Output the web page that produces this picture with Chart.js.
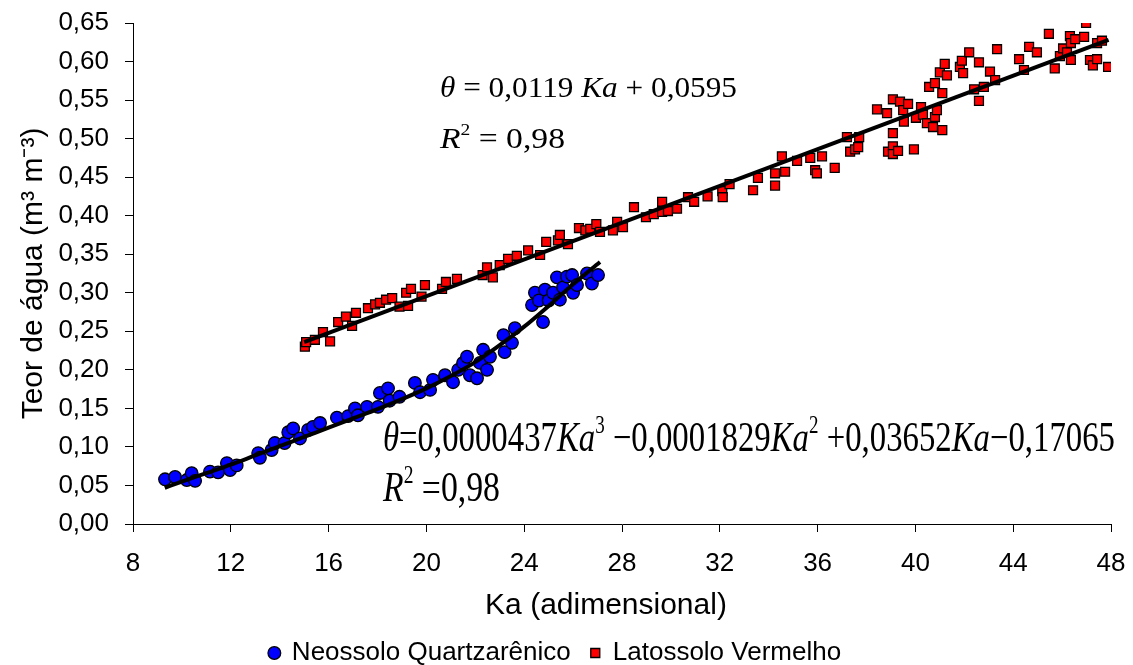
<!DOCTYPE html>
<html>
<head>
<meta charset="utf-8">
<script src="https://cdn.jsdelivr.net/npm/chart.js@4"></script>
<style>
  html, body { margin: 0; padding: 0; background: #fff; overflow: hidden; }
  #wrap { width: 1133px; height: 665px; position: relative; }
</style>
</head>
<body>
<div id="wrap"><canvas id="c"></canvas></div>
<script>
// ---- Data ----
const neoKa = [9.31, 9.72, 10.20, 10.40, 10.54, 11.15, 11.48, 11.84, 11.97, 12.24,
  13.12, 13.19, 13.67, 13.80, 14.20, 14.35, 14.55, 14.83, 15.16, 15.36,
  15.65, 16.34, 16.80, 17.08, 17.20, 17.57, 18.02, 18.10, 18.43, 18.50,
  18.90, 19.53, 19.74, 20.15, 20.27, 20.76, 21.09, 21.30, 21.50, 21.66,
  21.78, 22.07, 22.19, 22.32, 22.48, 22.60, 23.15, 23.20, 23.50, 23.62,
  24.32, 24.44, 24.60, 24.77, 24.85, 25.00, 25.18, 25.34, 25.46, 25.59,
  25.75, 25.96, 26.00, 26.16, 26.57, 26.77, 27.02];
const neoTheta = [0.058, 0.061, 0.057, 0.066, 0.056, 0.068, 0.067, 0.079, 0.070, 0.076,
  0.092, 0.086, 0.096, 0.105, 0.105, 0.119, 0.124, 0.111, 0.122, 0.126,
  0.131, 0.138, 0.140, 0.150, 0.141, 0.152, 0.152, 0.170, 0.176, 0.160,
  0.165, 0.183, 0.171, 0.174, 0.187, 0.193, 0.184, 0.200, 0.209, 0.217,
  0.193, 0.189, 0.209, 0.226, 0.200, 0.217, 0.245, 0.223, 0.235, 0.254,
  0.284, 0.300, 0.290, 0.262, 0.304, 0.290, 0.300, 0.320, 0.291, 0.307,
  0.321, 0.323, 0.300, 0.310, 0.325, 0.312, 0.323];

const latKa = [15.03, 15.08, 15.44, 15.77, 16.06, 16.39, 16.71, 16.96, 17.12, 17.61,
  17.90, 18.10, 18.35, 18.60, 18.90, 19.25, 19.17, 19.37, 19.80, 19.94,
  20.64, 20.80, 21.25, 22.30, 22.48, 22.72, 23.00, 23.34, 23.70, 24.16,
  24.65, 24.90, 25.38, 25.46, 25.79, 26.24, 26.50, 26.70, 26.95, 27.10,
  27.63, 27.80, 28.04, 28.49, 28.98, 29.30, 29.64, 29.64, 29.88, 30.25,
  30.70, 30.95, 31.50, 32.10, 32.12, 32.40, 33.36, 33.56, 34.26, 34.26,
  34.54, 34.67, 35.16, 35.70, 35.90, 35.97, 36.18, 36.70, 37.20, 37.33,
  37.53, 37.70, 37.66, 38.43, 38.84, 38.88, 39.08, 39.08, 39.08, 39.08,
  39.29, 39.37, 39.50, 39.53, 39.70, 39.94, 40.02, 40.23, 40.31, 40.47,
  40.56, 40.72, 40.80, 40.80, 40.88, 41.00, 41.10, 41.10, 41.20, 41.29,
  41.82, 41.90, 41.95, 42.20, 42.40, 42.60, 42.60, 42.80, 43.05, 43.26,
  43.34, 44.24, 44.44, 44.65, 44.97, 45.46, 45.70, 45.91, 46.04, 46.20,
  46.32, 46.36, 46.36, 46.53, 46.90, 46.98, 47.14, 47.26, 47.43, 47.43,
  47.63, 47.88];
const latTheta = [0.230, 0.236, 0.239, 0.249, 0.237, 0.262, 0.269, 0.257, 0.274, 0.280,
  0.285, 0.287, 0.291, 0.293, 0.282, 0.283, 0.300, 0.305, 0.295, 0.310,
  0.305, 0.314, 0.318, 0.323, 0.333, 0.320, 0.336, 0.344, 0.348, 0.355,
  0.349, 0.366, 0.368, 0.375, 0.363, 0.384, 0.381, 0.383, 0.389, 0.379,
  0.381, 0.392, 0.385, 0.411, 0.398, 0.402, 0.418, 0.405, 0.406, 0.409,
  0.424, 0.418, 0.425, 0.432, 0.424, 0.441, 0.433, 0.449, 0.455, 0.439,
  0.477, 0.457, 0.471, 0.475, 0.459, 0.455, 0.477, 0.462, 0.502, 0.483,
  0.486, 0.502, 0.489, 0.538, 0.533, 0.483, 0.551, 0.507, 0.490, 0.480,
  0.484, 0.548, 0.537, 0.522, 0.545, 0.486, 0.527, 0.541, 0.531, 0.520,
  0.567, 0.515, 0.528, 0.572, 0.537, 0.586, 0.511, 0.559, 0.597, 0.582,
  0.593, 0.601, 0.585, 0.612, 0.564, 0.599, 0.549, 0.567, 0.587, 0.576,
  0.616, 0.603, 0.589, 0.619, 0.612, 0.636, 0.591, 0.607, 0.617, 0.612,
  0.633, 0.624, 0.602, 0.629, 0.632, 0.650, 0.602, 0.595, 0.603, 0.624,
  0.627, 0.593];

// trend lines
const neoFitKa = [9.3, 10, 11, 12, 13, 14, 15, 16, 17, 18, 19, 20, 21, 22, 23, 24, 25, 26, 27.1];
const neoFitTheta = [0.047, 0.055, 0.066, 0.077, 0.089, 0.101, 0.113, 0.125, 0.137, 0.149,
  0.162, 0.176, 0.192, 0.210, 0.232, 0.256, 0.283, 0.311, 0.340];
const latFitKa = [15.0, 47.9];
const latFitTheta = [0.236, 0.628];

const xTickValues = [8, 12, 16, 20, 24, 28, 32, 36, 40, 44, 48];
const yTickValues = [0, 0.05, 0.10, 0.15, 0.20, 0.25, 0.30, 0.35, 0.40, 0.45, 0.50, 0.55, 0.60, 0.65];
const yTickLabels = ['0,00', '0,05', '0,10', '0,15', '0,20', '0,25', '0,30', '0,35', '0,40', '0,45', '0,50', '0,55', '0,60', '0,65'];

const seriesNames = ['Neossolo Quartzarênico', 'Latossolo Vermelho'];
const xTitle = 'Ka (adimensional)';
const yTitle = 'Teor de água (m³ m⁻³)';

// ---- Chart ----
const SANS = '"Liberation Sans", Arial, sans-serif';
const SERIF = '"Liberation Serif", "Times New Roman", serif';
const toXY = (xs, ys) => xs.map((x, i) => ({ x: x, y: ys[i] }));

// target plot area (pixels)
const AREA = { left: 133, top: 23, right: 1111, bottom: 524 };
let xScaleHeight = 96;
let yScaleWidth = 133;

function drawRich(ctx, segs, x, y, size, width) {
  const fontOf = s => (s[1] ? 'italic ' : '') + (s[2] ? size * 0.58 : size) + 'px ' + SERIF;
  let total = 0;
  const ws = segs.map(s => { ctx.font = fontOf(s); const w = ctx.measureText(s[0]).width; total += w; return w; });
  const sx = width / total;
  ctx.save();
  ctx.translate(x, y);
  ctx.scale(sx, 1);
  ctx.fillStyle = '#000';
  ctx.textBaseline = 'alphabetic';
  ctx.textAlign = 'left';
  let cx = 0;
  segs.forEach((s, i) => {
    ctx.font = fontOf(s);
    ctx.fillText(s[0], cx, s[2] ? -size * 0.42 : 0);
    cx += ws[i];
  });
  ctx.restore();
}

const textPlugin = {
  id: 'textPlugin',
  afterDraw(chart) {
    const ctx = chart.ctx;
    // x axis title
    ctx.save();
    ctx.font = '30px ' + SANS;
    ctx.fillStyle = '#000';
    ctx.textAlign = 'center';
    ctx.textBaseline = 'middle';
    ctx.fillText(xTitle, 606, 606);
    ctx.restore();
    // equations
    drawRich(ctx, [['θ', true], [' = 0,0119 ', false], ['Ka', true], [' + 0,0595', false]], 440, 97, 30, 297);
    drawRich(ctx, [['R', true], ['2', false, true], [' = 0,98', false]], 440, 148, 30, 125);
    drawRich(ctx, [['θ', true], ['=0,0000437', false], ['Ka', true], ['3', false, true],
      [' −0,0001829', false], ['Ka', true], ['2', false, true], [' +0,03652', false],
      ['Ka', true], ['−0,17065', false]], 383, 451, 42, 732);
    drawRich(ctx, [['R', true], ['2', false, true], [' =0,98', false]], 383, 501, 42, 117);
  }
};

const chart = new Chart(document.getElementById('c'), {
  type: 'scatter',
  data: {
    datasets: [
      { label: 'fitNeo', type: 'line', data: toXY(neoFitKa, neoFitTheta), borderColor: '#000', borderWidth: 4,
        pointRadius: 0, cubicInterpolationMode: 'monotone', fill: false, order: 0 },
      { label: 'fitLat', type: 'line', data: toXY(latFitKa, latFitTheta), borderColor: '#000', borderWidth: 4,
        pointRadius: 0, fill: false, order: 0 },
      { label: seriesNames[0], data: toXY(neoKa, neoTheta), pointStyle: 'circle', pointRadius: 6.3,
        backgroundColor: '#0000FF', borderColor: '#000', borderWidth: 1.3, order: 1 },
      { label: seriesNames[1], data: toXY(latKa, latTheta), pointStyle: 'rect', pointRadius: 6.3,
        backgroundColor: '#FF0000', borderColor: '#000', borderWidth: 1.3, order: 2 }
    ]
  },
  options: {
    responsive: true,
    maintainAspectRatio: false,
    animation: false,
    devicePixelRatio: 1,
    layout: { autoPadding: false, padding: { left: 0, right: 22, top: 23, bottom: -11 } },
    plugins: {
      tooltip: { enabled: false },
      legend: {
        position: 'bottom',
        labels: {
          usePointStyle: true, boxWidth: 9, boxHeight: 9, padding: 20,
          color: '#000', font: { size: 26, family: SANS },
          filter: item => item.datasetIndex >= 2
        }
      }
    },
    scales: {
      x: {
        type: 'linear', min: 8, max: 48,
        afterBuildTicks: s => { s.ticks = xTickValues.map(v => ({ value: v })); },
        afterFit: s => { s.height = xScaleHeight; s.paddingLeft = 0; s.paddingRight = 0; },
        ticks: { color: '#000', font: { size: 26, family: SANS }, padding: 16, maxRotation: 0, autoSkip: false,
          callback: v => String(v) },
        grid: { drawOnChartArea: false, drawTicks: true, tickLength: 8, color: '#000', lineWidth: 1 },
        border: { color: '#000', width: 1 },
        title: { display: false }
      },
      y: {
        type: 'linear', min: 0, max: 0.65,
        afterBuildTicks: s => { s.ticks = yTickValues.map(v => ({ value: v })); },
        afterFit: s => { s.width = yScaleWidth; s.paddingTop = 0; s.paddingBottom = 0; },
        ticks: { color: '#000', font: { size: 26, family: SANS }, padding: 16, autoSkip: false,
          callback: v => yTickLabels[yTickValues.findIndex(t => Math.abs(t - v) < 1e-9)] },
        grid: { drawOnChartArea: false, drawTicks: true, tickLength: 8, color: '#000', lineWidth: 1 },
        border: { color: '#000', width: 1 },
        title: { display: true, text: yTitle, color: '#000', font: { size: 30, family: SANS },
          padding: { top: 16, bottom: 0 } }
      }
    }
  },
  plugins: [textPlugin]
});

// nudge the layout so the plot area lands where it sits in the reference
for (let k = 0; k < 5; k++) {
  const ca = chart.chartArea;
  const dTop = AREA.top - ca.top;
  const dBottom = ca.bottom - AREA.bottom;
  const dLeft = AREA.left - ca.left;
  const dRight = ca.right - AREA.right;
  if (Math.abs(dTop) < 0.5 && Math.abs(dBottom) < 0.5 && Math.abs(dLeft) < 0.5 && Math.abs(dRight) < 0.5) break;
  const p = chart.config.options.layout.padding;
  chart.config.options.layout.padding = { left: p.left, right: p.right + dRight, top: p.top + dTop, bottom: p.bottom };
  xScaleHeight += dBottom;
  yScaleWidth += dLeft;
  chart.update('none');
}
</script>
</body>
</html>
